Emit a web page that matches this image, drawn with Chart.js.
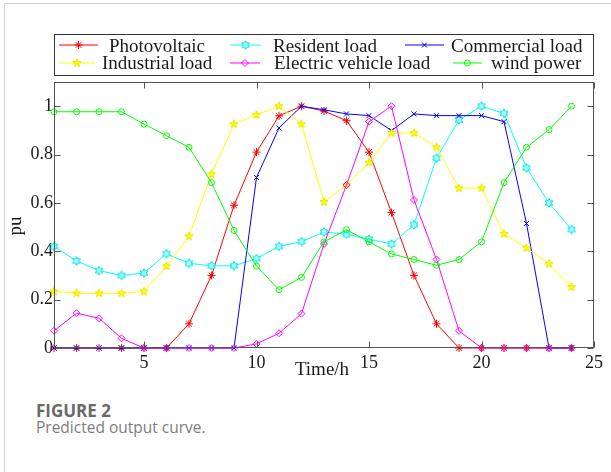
<!DOCTYPE html>
<html>
<head>
<meta charset="utf-8">
<script src="https://cdn.jsdelivr.net/npm/chart.js@4.4.0/dist/chart.umd.min.js"></script>
<style>
  body { margin: 0; background: #fff; width: 611px; height: 472px; overflow: hidden; position: relative; }
  #frame { position: absolute; left: 4px; top: 3px; width: 700px; height: 500px; border-left: 1px solid #d4d4d4; border-top: 1px solid #d4d4d4; }
  #wrap { position: absolute; left: 0; top: 0; width: 611px; height: 395px; }
  .fig { position: absolute; left: 36px; top: 401px; font: 700 17px/20px 'Open Sans', sans-serif; color: #6a6a6a; }
  .cap { position: absolute; left: 36px; top: 418px; font: 400 15.5px/18px 'Open Sans', sans-serif; color: #7d7d7d; }
</style>
</head>
<body>
<div id="frame"></div>
<div id="wrap"><canvas id="outputChart" width="611" height="395"></canvas></div>
<div class="fig">FIGURE 2</div>
<div class="cap">Predicted output curve.</div>
<script>
// Sati i ose
const hours = [1, 2, 3, 4, 5, 6, 7, 8, 9, 10, 11, 12, 13, 14, 15, 16, 17, 18, 19, 20, 21, 22, 23, 24];
const xTicks = [5, 10, 15, 20, 25];
const yTicks = [0, 0.2, 0.4, 0.6, 0.8, 1];

// Predvidjene krive (pu)
const photovoltaic = [0, 0, 0, 0, 0, 0, 0.10, 0.30, 0.59, 0.81, 0.96, 1.00, 0.98, 0.94, 0.81, 0.56, 0.30, 0.10, 0, 0, 0, 0, 0, 0];
const residentLoad = [0.42, 0.36, 0.32, 0.30, 0.31, 0.39, 0.35, 0.34, 0.34, 0.37, 0.42, 0.44, 0.48, 0.47, 0.45, 0.43, 0.51, 0.785, 0.943, 1.00, 0.97, 0.745, 0.60, 0.49];
const commercialLoad = [0, 0, 0, 0, 0, 0, 0, 0, 0, 0.705, 0.91, 1.00, 0.985, 0.968, 0.961, 0.899, 0.968, 0.961, 0.961, 0.961, 0.936, 0.515, 0, 0];
const industrialLoad = [0.234, 0.226, 0.226, 0.226, 0.234, 0.338, 0.462, 0.719, 0.926, 0.964, 1.00, 0.926, 0.604, 0.674, 0.767, 0.889, 0.889, 0.83, 0.661, 0.661, 0.472, 0.414, 0.348, 0.252];
const evLoad = [0.071, 0.144, 0.123, 0.04, 0, 0, 0, 0, 0, 0.017, 0.061, 0.142, 0.43, 0.674, 0.936, 1.00, 0.612, 0.366, 0.071, 0, 0, 0, 0, 0];
const windPower = [0.977, 0.977, 0.977, 0.977, 0.926, 0.878, 0.83, 0.684, 0.486, 0.339, 0.241, 0.292, 0.439, 0.489, 0.439, 0.389, 0.366, 0.342, 0.366, 0.439, 0.684, 0.83, 0.903, 1.00];

const serif = "'Liberation Serif', 'Times New Roman', serif";

// Markeri u obliku zvezde (pentagram, heksagram) kao mali canvas
function starMarker(points, inner, stroke, fill, size) {
    const c = document.createElement('canvas');
    c.width = size; c.height = size;
    const g = c.getContext('2d');
    const r = size / 2 - 0.7;
    g.beginPath();
    for (let i = 0; i < points * 2; i++) {
        const rr = i % 2 === 0 ? r : r * inner;
        const a = -Math.PI / 2 + i * Math.PI / points;
        const px = size / 2 + rr * Math.cos(a), py = size / 2 + rr * Math.sin(a);
        if (i === 0) g.moveTo(px, py); else g.lineTo(px, py);
    }
    g.closePath();
    g.fillStyle = fill; g.fill();
    g.strokeStyle = stroke; g.lineWidth = 1; g.stroke();
    return c;
}

const pentagram = starMarker(5, 0.42, '#e6e600', '#ffff00', 10);
const hexagram = starMarker(6, 0.58, '#00e0e0', '#aaffff', 10);

function series(label, values, color, pointStyle, radius) {
    return {
        label: label,
        data: hours.map((h, i) => ({ x: h, y: values[i] })),
        borderColor: color,
        backgroundColor: 'rgba(255,255,255,0)',
        borderWidth: 1,
        pointStyle: pointStyle,
        pointRadius: radius,
        pointBorderWidth: 1,
        pointBorderColor: color,
        pointBackgroundColor: 'rgba(255,255,255,0)',
        tension: 0,
        clip: false
    };
}

const datasets = [
    series('Photovoltaic', photovoltaic, '#ff0000', 'star', 4),
    series('Resident load', residentLoad, '#00ffff', hexagram, 4),
    series('Commercial load', commercialLoad, '#0000ff', 'crossRot', 3.5),
    series('Industrial load', industrialLoad, '#ffff00', pentagram, 4),
    series('Electric vehicle load', evLoad, '#ff00ff', 'rectRot', 3.5),
    series('wind power', windPower, '#00ff00', 'circle', 3)
];
// kasnije krive idu preko ranijih
datasets.forEach((d, i) => { d.order = datasets.length - i; });

// raspored stavki legende: [pocetak linije, kraj linije, x teksta]
const legendLayout = [
    [59, 98, 109], [230, 261, 273], [405, 444, 451],
    [59, 95, 102], [230, 260, 274], [453, 482, 491]
];
const legendRows = [{ line: 45, base: 52 }, { line: 63, base: 68.7 }];

const framePlugin = {
    id: 'frame',
    afterDraw(chart) {
        const { ctx, chartArea: a, scales: { x, y } } = chart;
        ctx.save();

        // okvir i unutrasnji podeoci
        ctx.strokeStyle = '#555';
        ctx.lineWidth = 1;
        const L = Math.round(a.left) + 0.5, R = Math.round(a.right) - 0.5;
        const T = Math.round(a.top) + 0.5, B = Math.round(a.bottom) - 0.5;
        ctx.strokeRect(L, T, R - L, B - T);
        ctx.beginPath();
        xTicks.forEach(v => {
            const px = Math.round(x.getPixelForValue(v)) + 0.5;
            ctx.moveTo(px, B); ctx.lineTo(px, B - 6);
            ctx.moveTo(px, T); ctx.lineTo(px, T + 6);
        });
        yTicks.forEach(v => {
            const py = Math.round(y.getPixelForValue(v)) + 0.5;
            ctx.moveTo(L, py); ctx.lineTo(L + 6, py);
            ctx.moveTo(R, py); ctx.lineTo(R - 6, py);
        });
        ctx.stroke();

        // nazivi osa
        ctx.fillStyle = '#1a1a1a';
        ctx.font = '19px ' + serif;
        ctx.textAlign = 'center';
        ctx.textBaseline = 'alphabetic';
        ctx.fillText('Time/h', 322, 375);
        ctx.save();
        ctx.translate(21, 226);
        ctx.rotate(-Math.PI / 2);
        ctx.fillText('pu', 0, 0);
        ctx.restore();

        // legenda
        ctx.strokeStyle = '#333';
        ctx.strokeRect(L, 34.5, R - L, 41);
        ctx.textAlign = 'left';
        chart.data.datasets.forEach((ds, i) => {
            const [x0, x1, tx] = legendLayout[i];
            const row = legendRows[Math.floor(i / 3)];
            ctx.strokeStyle = ds.borderColor;
            ctx.lineWidth = 1;
            ctx.beginPath();
            ctx.moveTo(x0, row.line); ctx.lineTo(x1, row.line);
            ctx.stroke();
            ctx.fillStyle = 'rgba(255,255,255,0)';
            Chart.helpers.drawPoint(ctx, {
                pointStyle: ds.pointStyle, radius: ds.pointRadius, borderWidth: 1, rotation: 0
            }, (x0 + x1) / 2, row.line);
            ctx.fillStyle = '#1a1a1a';
            ctx.font = '19px ' + serif;
            ctx.fillText(ds.label, tx, row.base);
        });
        ctx.restore();
    }
};

new Chart(document.getElementById('outputChart'), {
    type: 'line',
    data: { datasets: datasets },
    options: {
        responsive: false,
        animation: false,
        devicePixelRatio: 1,
        layout: { padding: { top: 82, right: 17, left: 0, bottom: 0 } },
        plugins: { legend: { display: false }, tooltip: { enabled: false } },
        scales: {
            x: {
                type: 'linear',
                min: 1,
                max: 25,
                afterBuildTicks: s => { s.ticks = xTicks.map(v => ({ value: v })); },
                afterFit: s => { s.height = 47; },
                grid: { display: false, drawTicks: false },
                border: { display: false },
                ticks: { font: { family: serif, size: 18 }, color: '#1a1a1a', padding: 4, maxRotation: 0 }
            },
            y: {
                min: 0,
                max: 1.1,
                afterBuildTicks: s => { s.ticks = yTicks.map(v => ({ value: v })); },
                afterFit: s => { s.width = 54; },
                grid: { display: false, drawTicks: false },
                border: { display: false },
                ticks: { font: { family: serif, size: 18 }, color: '#1a1a1a', padding: 1, callback: v => String(v) }
            }
        }
    },
    plugins: [framePlugin]
});
</script>
</body>
</html>
